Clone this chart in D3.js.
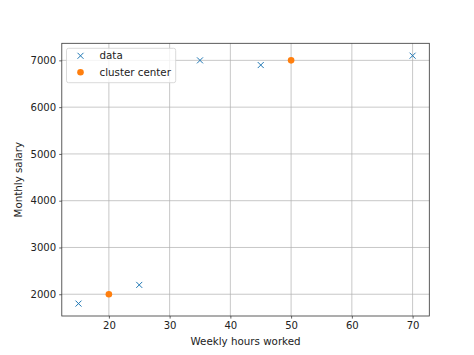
<!DOCTYPE html>
<html><head><meta charset="utf-8">
<script src="https://cdn.jsdelivr.net/npm/d3@7"></script>
<style>body{margin:0;background:#fff}svg{display:block}text{font-family:"DejaVu Sans",sans-serif}</style>
</head><body>
<script>
const dataX = [15, 25, 35, 45, 70];
const dataY = [1800, 2200, 7000, 6900, 7100];
const centerX = [20, 50];
const centerY = [2000, 7000];
const xTicks = [20, 30, 40, 50, 60, 70];
const yTicks = [2000, 3000, 4000, 5000, 6000, 7000];
const legendLabels = ["data", "cluster center"];

const W = 474, H = 355;
const L = 61.8, R = 429.3, T = 43.3, B = 316;
const svg = d3.select("body").append("svg").attr("width", W).attr("height", H);

const x = d3.scaleLinear().domain([12.25, 72.75]).range([L, R]);
const y = d3.scaleLinear().domain([1535, 7365]).range([B, T]);

// grid
const g = svg.append("g");
g.selectAll(".gx").data(xTicks).enter().append("line")
  .attr("x1", d => x(d)).attr("x2", d => x(d)).attr("y1", T).attr("y2", B)
  .attr("stroke", "#b0b0b0").attr("stroke-width", 0.7);
g.selectAll(".gy").data(yTicks).enter().append("line")
  .attr("x1", L).attr("x2", R).attr("y1", d => y(d)).attr("y2", d => y(d))
  .attr("stroke", "#b0b0b0").attr("stroke-width", 0.7);

// axes
const fs = 10.1;
const xAxis = svg.append("g").attr("transform", `translate(0,${B})`)
  .call(d3.axisBottom(x).tickValues(xTicks).tickSize(2.6).tickPadding(3).tickFormat(d3.format("d")));
const yAxis = svg.append("g").attr("transform", `translate(${L},0)`)
  .call(d3.axisLeft(y).tickValues(yTicks).tickSize(2.6).tickPadding(3).tickFormat(d3.format("d")));
[xAxis, yAxis].forEach(a => {
  a.select(".domain").remove();
  a.selectAll("text").attr("font-size", fs).attr("fill", "#222").style("font-family", "DejaVu Sans");
  a.selectAll("line").attr("stroke", "#222").attr("stroke-width", 0.7);
});

// spines
svg.append("rect").attr("x", L).attr("y", T).attr("width", R - L).attr("height", B - T)
  .attr("fill", "none").attr("stroke", "#333").attr("stroke-width", 0.8);

// data markers (x)
const xs = 3.0;
const pts = dataX.map((d, i) => [d, dataY[i]]);
svg.append("g").selectAll("path").data(pts).enter().append("path")
  .attr("d", d => { const cx = x(d[0]), cy = y(d[1]);
    return `M${cx-xs},${cy-xs}L${cx+xs},${cy+xs}M${cx-xs},${cy+xs}L${cx+xs},${cy-xs}`; })
  .attr("stroke", "#1f77b4").attr("stroke-width", 1).attr("fill", "none");

// centers
const cpts = centerX.map((d, i) => [d, centerY[i]]);
svg.append("g").selectAll("circle").data(cpts).enter().append("circle")
  .attr("cx", d => x(d[0])).attr("cy", d => y(d[1])).attr("r", 3.3)
  .attr("fill", "#ff7f0e");

// axis labels
svg.append("text").attr("x", (L + R) / 2).attr("y", 344.5).attr("text-anchor", "middle")
  .attr("font-size", fs + 0.2).attr("fill", "#222").text("Weekly hours worked");
svg.append("text").attr("transform", `translate(21.5,${(T + B) / 2}) rotate(-90)`)
  .attr("text-anchor", "middle").attr("font-size", fs + 0.2).attr("fill", "#222").text("Monthly salary");

// legend
const lg = svg.append("g");
lg.append("rect").attr("x", 66.5).attr("y", 48.3).attr("width", 109.2).attr("height", 34.4)
  .attr("rx", 2).attr("fill", "#fff").attr("fill-opacity", 0.8)
  .attr("stroke", "#d0d0d0").attr("stroke-width", 0.8);
const lx = 80.5, ly1 = 55.8, ly2 = 72.2;
lg.append("path").attr("d", `M${lx-xs},${ly1-xs}L${lx+xs},${ly1+xs}M${lx-xs},${ly1+xs}L${lx+xs},${ly1-xs}`)
  .attr("stroke", "#1f77b4").attr("stroke-width", 1);
lg.append("circle").attr("cx", lx).attr("cy", ly2).attr("r", 3.3).attr("fill", "#ff7f0e");
lg.selectAll("text").data(legendLabels).enter().append("text")
  .attr("x", 99.5).attr("y", (d, i) => [ly1, ly2][i]).attr("dy", "0.35em")
  .attr("font-size", fs + 0.2).attr("fill", "#222").text(d => d);
</script>
</body></html>
